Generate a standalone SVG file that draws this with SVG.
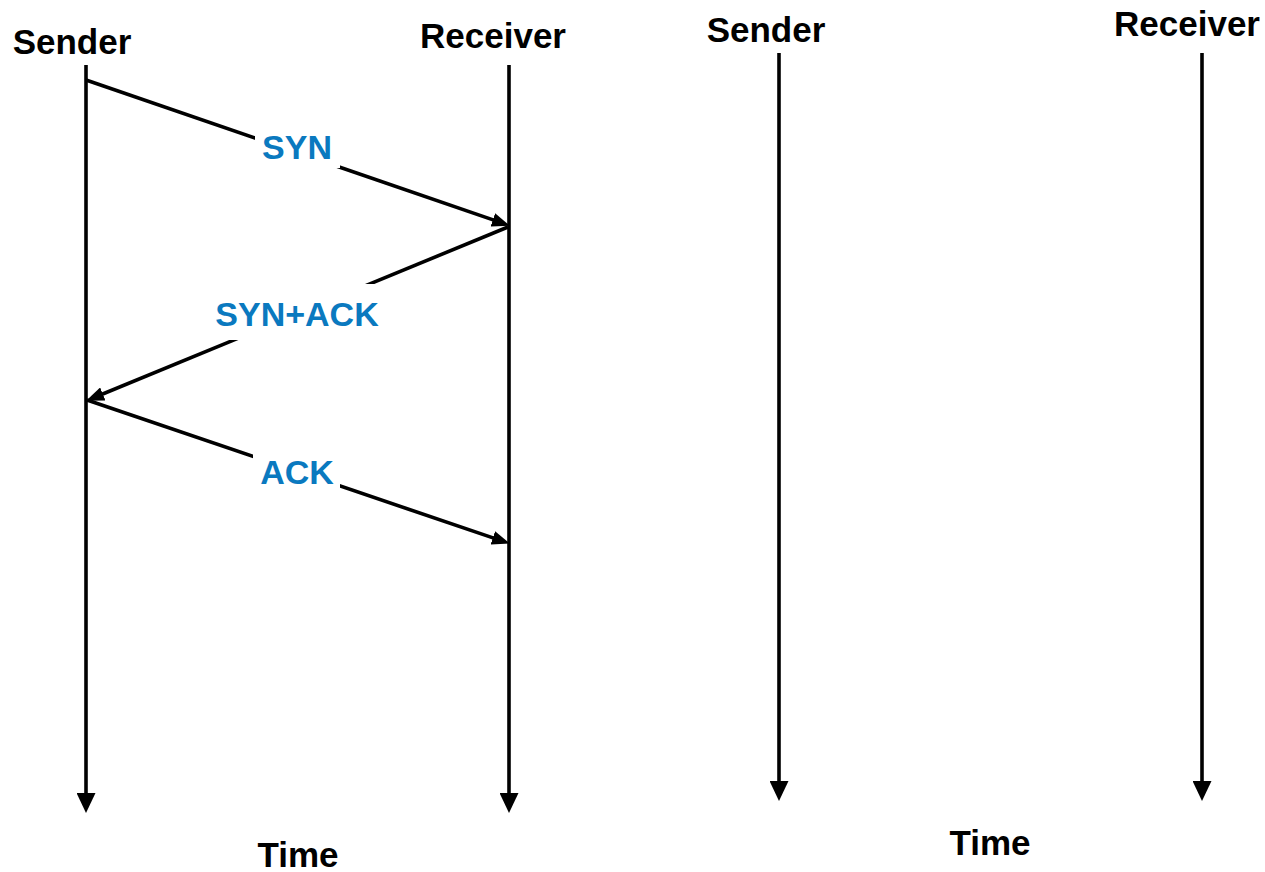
<svg xmlns="http://www.w3.org/2000/svg" width="1265" height="872" viewBox="0 0 1265 872">
  <style>
    .title { font-family: "Liberation Sans", Arial, sans-serif; font-weight: bold; font-size: 35px; fill: #000; text-anchor: middle; }
    .msg { font-family: "Liberation Sans", Arial, sans-serif; font-weight: bold; font-size: 34px; fill: #0A79BF; text-anchor: middle; }
    .life { stroke: #000; stroke-width: 3.6; fill: none; marker-end: url(#bigArrow); }
    .arrow { stroke: #000; stroke-width: 3.6; fill: none; marker-end: url(#smallArrow); }
    .gap { fill: #fff; }
  </style>
  <defs>
    <marker id="bigArrow" markerUnits="userSpaceOnUse" markerWidth="20" markerHeight="19" refX="10" refY="9.5" orient="auto">
      <path d="M0,0 L20,9.5 L0,19 z" fill="#000"/>
    </marker>
    <marker id="smallArrow" markerUnits="userSpaceOnUse" markerWidth="18" markerHeight="14" refX="8" refY="7" orient="auto">
      <path d="M0,0 L18,7 L0,14 z" fill="#000"/>
    </marker>
  </defs>
  <rect width="1265" height="872" fill="#fff"/>

  <g id="connectors">
    <path class="life" d="M86,65 V803"/>
    <path class="life" d="M509,65 V803"/>
    <path class="life" d="M779,53 V791"/>
    <path class="life" d="M1202,53 V791"/>
    <path class="arrow" d="M86,80 L500.4,222.4"/>
    <path class="arrow" d="M508,227 L95.4,397"/>
    <path class="arrow" d="M87,400 L500.4,540.4"/>
  </g>

  <g id="left-sender"><text class="title" x="72" y="54">Sender</text></g>
  <g id="left-receiver"><text class="title" x="493" y="48">Receiver</text></g>
  <g id="left-time"><text class="title" x="298" y="867">Time</text></g>

  <g id="label-syn">
    <rect class="gap" x="255" y="128" width="85" height="40"/>
    <text class="msg" x="297" y="159">SYN</text>
  </g>
  <g id="label-synack">
    <rect class="gap" x="211" y="284" width="173" height="56"/>
    <text class="msg" x="297" y="326">SYN+ACK</text>
  </g>
  <g id="label-ack">
    <rect class="gap" x="253" y="450" width="87" height="38"/>
    <text class="msg" x="297" y="484">ACK</text>
  </g>

  <g id="right-sender"><text class="title" x="766" y="42">Sender</text></g>
  <g id="right-receiver"><text class="title" x="1187" y="36">Receiver</text></g>
  <g id="right-time"><text class="title" x="990" y="855">Time</text></g>
</svg>
